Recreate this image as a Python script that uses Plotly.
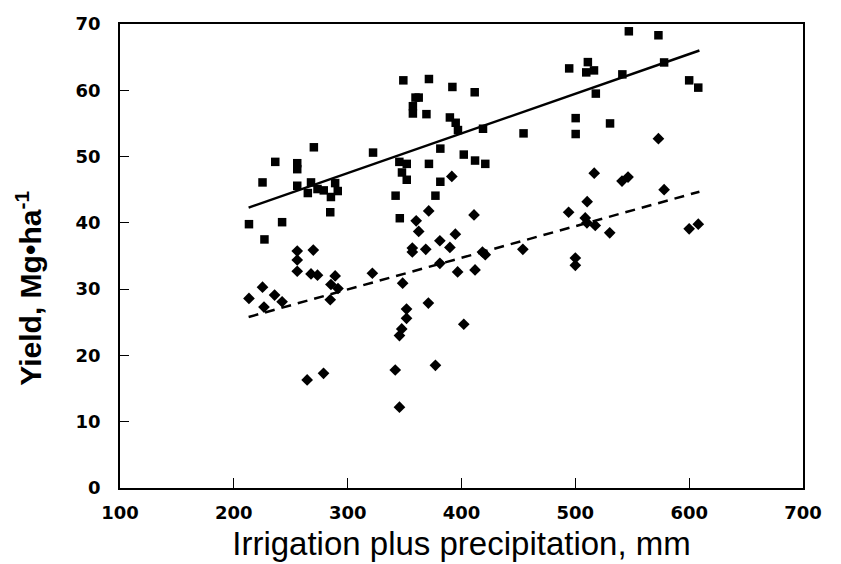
import plotly.graph_objects as go

# Upper series (squares)
sq_x = [213.3, 226.9, 225.2, 236.4, 242.4, 255.7, 255.7, 255.7, 265.0, 267.8,
        270.3, 273.5, 279.0, 285.3, 289.0, 291.3, 284.7, 322.3, 342.1, 345.4,
        345.8, 347.7, 348.9, 351.9, 351.9, 357.3, 357.3, 359.6, 362.4, 369.2,
        371.4, 371.4, 377.1, 381.4, 381.4, 389.8, 392.0, 394.9, 396.9, 402.0,
        411.6, 411.9, 418.9, 420.9, 454.5, 494.6, 500.3, 500.3, 509.6, 511.0,
        516.4, 518.0, 530.5, 541.3, 547.0, 573.0, 578.0, 600.0, 608.0]
sq_y = [39.8, 37.5, 46.1, 49.2, 40.1, 49.0, 48.1, 45.6, 44.5, 46.1,
        51.4, 45.1, 44.9, 43.9, 46.0, 44.8, 41.6, 50.6, 44.1, 49.2,
        40.7, 47.6, 61.5, 48.9, 46.5, 57.6, 56.5, 58.9, 58.9, 56.4,
        61.7, 48.9, 44.1, 51.2, 46.2, 55.9, 60.5, 55.1, 54.0, 50.3,
        59.7, 49.4, 54.2, 48.9, 53.5, 63.3, 55.8, 53.4, 62.7, 64.25,
        63.0, 59.5, 55.0, 62.4, 68.9, 68.3, 64.2, 61.5, 60.4]

# Lower series (diamonds)
dm_x = [213.3, 225.2, 226.5, 235.8, 242.4, 255.7, 255.7, 255.7, 264.4, 267.8,
        269.8, 273.5, 278.8, 284.7, 285.3, 289.0, 291.5, 321.7, 341.8, 345.5,
        345.5, 347.5, 348.3, 351.7, 351.7, 356.8, 356.8, 360.2, 362.4, 368.6,
        370.9, 371.2, 377.1, 381.0, 381.0, 389.8, 391.5, 394.6, 396.6, 402.0,
        411.0, 411.9, 418.4, 420.9, 453.9, 494.1, 500.0, 500.0, 508.7, 510.2,
        510.4, 516.6, 517.5, 530.2, 541.0, 546.3, 573.0, 578.0, 600.0, 608.0]
dm_y = [28.6, 30.3, 27.3, 29.1, 28.1, 35.75, 34.4, 32.7, 16.3, 32.3,
        35.9, 32.1, 17.3, 28.4, 30.7, 32.0, 30.1, 32.4, 17.8, 12.2,
        23.0, 24.0, 30.9, 27.0, 25.6, 36.2, 35.6, 40.3, 38.7, 36.0,
        27.9, 41.8, 18.5, 37.3, 33.9, 36.3, 47.0, 38.3, 32.6, 24.7,
        41.2, 32.9, 35.6, 35.2, 36.0, 41.6, 34.7, 33.6, 40.75, 40.0,
        43.2, 47.5, 39.6, 38.5, 46.3, 46.9, 52.7, 45.0, 39.1, 39.8]

# Regression line end points
fit_x = [213, 609]
fit_solid_y = [42.3, 66.0]
fit_dash_y = [25.8, 44.7]

x_ticks = [100, 200, 300, 400, 500, 600, 700]
y_ticks = [0, 10, 20, 30, 40, 50, 60, 70]

FONT = "Liberation Sans, Arial, sans-serif"
TICKFONT = "DejaVu Sans, Liberation Sans, sans-serif"

fig = go.Figure()
fig.add_trace(go.Scatter(x=sq_x, y=sq_y, mode="markers",
                         marker=dict(symbol="square", size=8.5, color="black"),
                         showlegend=False))
fig.add_trace(go.Scatter(x=dm_x, y=dm_y, mode="markers",
                         marker=dict(symbol="diamond", size=9, color="black"),
                         showlegend=False))
fig.add_trace(go.Scatter(x=fit_x, y=fit_solid_y, mode="lines",
                         line=dict(color="black", width=2.5), showlegend=False))
fig.add_trace(go.Scatter(x=fit_x, y=fit_dash_y, mode="lines",
                         line=dict(color="black", width=2.5, dash="10px,7px"),
                         showlegend=False))

fig.update_layout(
    width=841, height=564,
    margin=dict(l=112, r=46, t=16, b=84, autoexpand=False),
    plot_bgcolor="white", paper_bgcolor="white",
    font=dict(family=FONT, color="black"),
)
fig.update_xaxes(
    range=[100, 700], tickvals=x_ticks, ticktext=[str(v) for v in x_ticks],
    showgrid=False, zeroline=False, showline=True, linecolor="black", linewidth=1.5,
    mirror=True, ticks="inside", ticklen=10, tickwidth=1.2, tickcolor="black",
    tickfont=dict(size=18, family=TICKFONT, weight=700), ticklabelstandoff=8,
    title=dict(text="Irrigation plus precipitation, mm",
               font=dict(size=33, family=FONT), standoff=10),
)
fig.update_yaxes(
    range=[0, 70], tickvals=y_ticks, ticktext=[str(v) for v in y_ticks],
    showgrid=False, zeroline=False, showline=True, linecolor="black", linewidth=1.5,
    mirror=True, ticks="inside", ticklen=9, tickwidth=1.2, tickcolor="black",
    tickfont=dict(size=18, family=TICKFONT, weight=700), ticklabelstandoff=14,
)
fig.add_annotation(
    text="<b>Yield, Mg\u2022ha<sup>-1</sup></b>",
    xref="paper", yref="paper", x=-0.133, y=0.43,
    xanchor="center", yanchor="middle", textangle=-90, showarrow=False,
    font=dict(size=30, family=FONT, color="black"),
)

fig.write_html("out.html")
